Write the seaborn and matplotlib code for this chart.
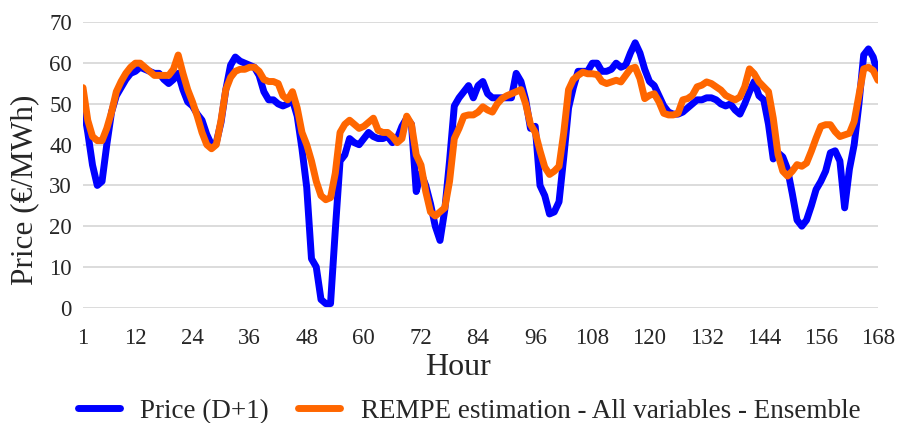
import pandas as pd
import numpy as np
import matplotlib
matplotlib.use("Agg")
import matplotlib.pyplot as plt
import seaborn as sns

# === Data ===
hours = list(range(1, 169))

price = [
    50, 43, 35, 30, 31, 40, 48, 52, 54, 56, 57.5, 58, 59, 58.5, 58, 57.5, 57.5, 56, 55, 56,
    57.5, 53.5, 50.5, 49.5, 47.5, 46, 42.5, 40, 40.5, 45.5, 53.5, 59.5, 61.5, 60.5, 60, 59.5, 59, 57, 53, 51,
    51, 50, 49.5, 50, 51, 47, 39, 29.5, 12, 10, 2, 1, 1, 19, 36, 37.5, 41.5, 40.5, 40, 41.5,
    43, 42, 41.5, 41.5, 42, 40.5, 41.5, 44.5, 46.5, 45, 28.5, 33, 30, 25.5, 20, 16.5, 24, 36, 49.5, 51.5,
    53, 54.5, 51.5, 54.5, 55.5, 52.5, 51.5, 51.5, 51.5, 51.5, 51.5, 57.5, 55.5, 51, 44, 44.5, 30, 27.5, 23, 23.5,
    26, 37, 49, 54, 58, 58, 58, 60, 60, 58, 58, 58.5, 60, 59, 59.5, 62.5, 65, 62.5, 58.5, 55.5,
    54.5, 52, 49.5, 48, 47.5, 47.5, 48, 49, 50, 51, 51, 51.5, 51.5, 51, 50, 49.5, 50, 48.5, 47.5, 50,
    53, 55.5, 52, 51, 45, 36.5, 38, 37, 34, 28, 21.5, 20, 21.5, 25, 29, 31, 33.5, 38, 38.5, 36,
    24.5, 34, 40, 50, 62, 63.5, 61.5, 57,
]

rempe = [
    54, 46, 42, 41, 41, 44, 48, 53, 55.5, 57.5, 59, 60, 60, 59, 58, 57, 57, 57, 57, 58.5,
    62, 57.5, 53.5, 50.5, 47, 43, 40, 39, 40, 46, 53.5, 56.5, 58, 58.5, 58.5, 59, 59, 58, 56, 55.5,
    55.5, 55, 52, 51, 53, 49, 43, 40, 36, 31, 27.5, 26.5, 27, 33, 43, 45, 46, 45, 44, 44.5,
    45.5, 46.5, 43.5, 43, 43, 42, 40.5, 41.5, 47, 45, 37.5, 35, 28.5, 23.5, 22.5, 23.5, 24.5, 31, 41.5, 44,
    47, 47.3, 47.3, 48, 49.3, 48.5, 48, 50, 51.3, 52, 52.5, 53, 53.5, 50, 45, 43, 38.5, 34.5, 32.7, 33.5,
    34.7, 43, 53.5, 56, 57, 57.8, 57.4, 57.4, 57.2, 55.5, 55, 55.4, 55.8, 55.4, 57, 58.6, 59, 56.2, 51.3, 52.1,
    52.5, 50.5, 47.7, 47.3, 47.3, 47.7, 51, 51.3, 52.1, 54.2, 54.6, 55.4, 55, 54.2, 53.4, 52.1, 51.5, 51, 51.7, 54.2,
    58.6, 57.4, 55.4, 54.2, 53, 46.5, 37.6, 33.5, 32.3, 33.5, 35.1, 34.7, 35.5, 38.4, 41.6, 44.5, 44.9, 44.9, 43.2, 42,
    42.4, 42.8, 45.7, 52.1, 58.6, 59, 58.2, 55.8,
]

series_names = ["Price (D+1)", "REMPE estimation - All variables - Ensemble"]
colors = ["#0000FF", "#FF6600"]
x_ticks = [1, 12, 24, 36, 48, 60, 72, 84, 96, 108, 120, 132, 144, 156, 168]

df = pd.DataFrame({
    "Hour": hours * 2,
    "Price": price + rempe,
    "Series": [series_names[0]] * len(hours) + [series_names[1]] * len(hours),
})

# === Plot ===
sns.set_theme(style="white")
plt.rcParams["font.family"] = ["Liberation Serif", "DejaVu Serif"]

fig, ax = plt.subplots(figsize=(9.07, 4.23), dpi=100)
fig.subplots_adjust(left=0.0915, right=0.968, top=0.947, bottom=0.2726)

sns.lineplot(data=df, x="Hour", y="Price", hue="Series", hue_order=series_names,
             palette=colors, linewidth=5, ax=ax, legend=True,
             solid_capstyle="round", solid_joinstyle="round")

ax.set_xlim(1, 168)
ax.set_ylim(0, 70)
ax.set_yticks(range(0, 71, 10))
ax.set_xticks(x_ticks)
ax.yaxis.grid(True, color="#d9d9d9", linewidth=1.3)
ax.xaxis.grid(False)
ax.set_axisbelow(True)
for s in ax.spines.values():
    s.set_visible(False)

ax.tick_params(axis="y", length=0, pad=8, labelsize=16.5)
ax.tick_params(axis="x", length=0, pad=14.5, labelsize=16.5)
ax.set_xlabel("Hour", fontsize=23, va="center")
ax.xaxis.set_label_coords(0.472, -0.211)
ax.set_ylabel("Price (€/MWh)", fontsize=22.5, va="center")
ax.yaxis.set_label_coords(-0.073, 0.412)

handles, labels = ax.get_legend_handles_labels()
for h in handles:
    h.set_solid_capstyle("round")
ax.get_legend().remove()
fig.legend(handles, labels, loc="center", bbox_to_anchor=(0.517, 0.028), ncol=2,
           frameon=False, fontsize=19.5, handlelength=1.55, handletextpad=0.75,
           columnspacing=1.1)

plt.savefig("out.png", dpi=100)
